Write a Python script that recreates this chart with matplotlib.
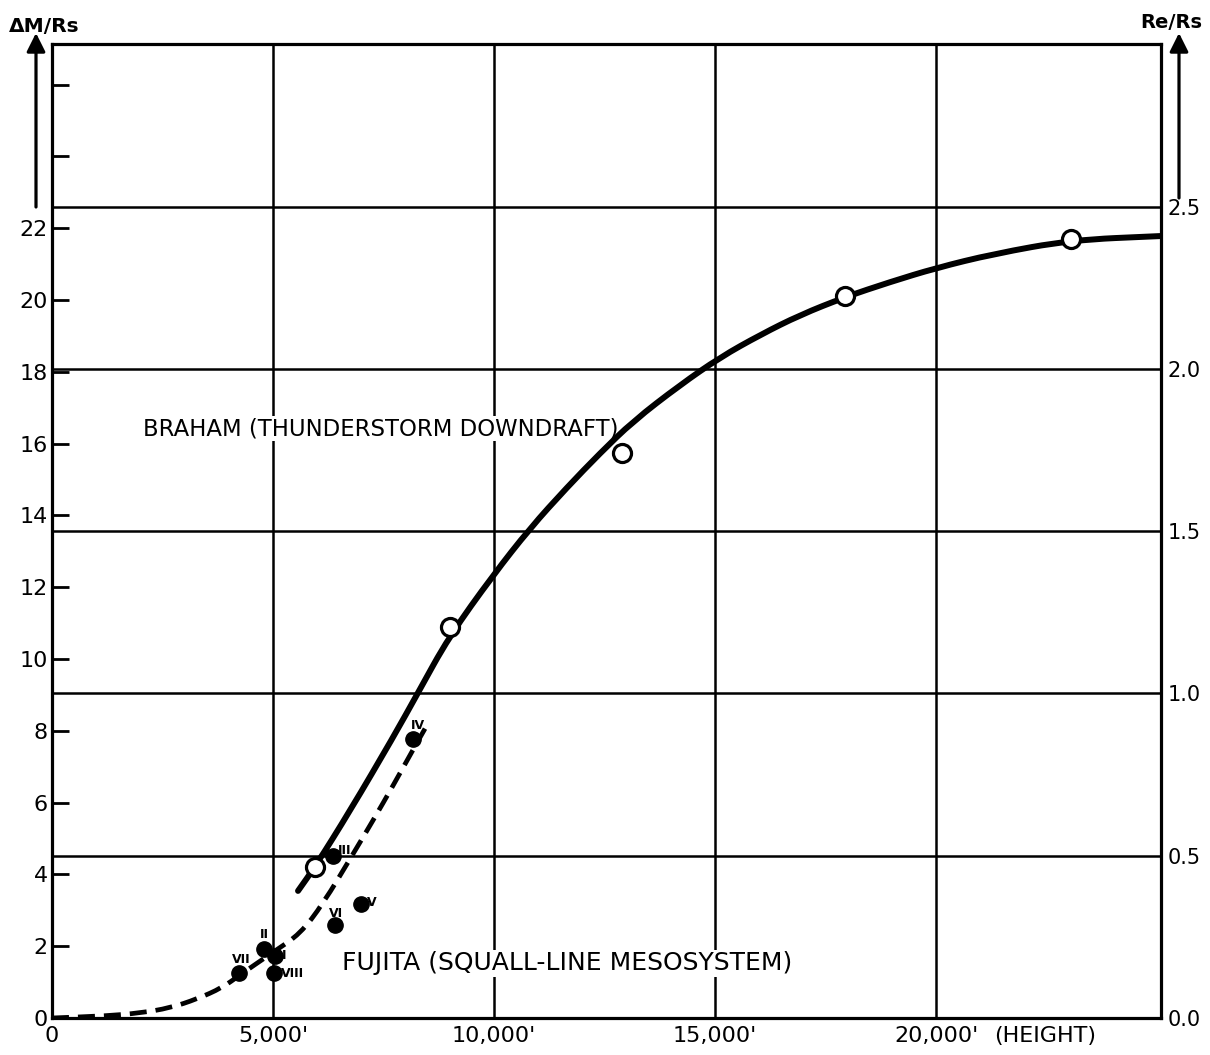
import numpy as np
import matplotlib
matplotlib.use("Agg")
import matplotlib.pyplot as plt
from matplotlib.path import Path
from matplotlib.patches import PathPatch

# Braham (thunderstorm downdraft) - open circles and solid curve
braham_x = [5950, 9000, 12900, 17950, 23050]
braham_y = [4.2, 10.9, 15.75, 20.1, 21.7]
braham_curve_x = [5566, 5950, 6742, 7715, 8281, 8982, 9977, 10814, 11652, 12398, 13145,
                  14208, 15113, 16041, 16923, 17941, 18959, 20000, 21290, 23054, 25068]
braham_curve_y = [3.54, 4.21, 5.77, 7.81, 9.06, 10.62, 12.33, 13.64, 14.78, 15.73, 16.62,
                  17.63, 18.4, 19.04, 19.58, 20.08, 20.5, 20.89, 21.28, 21.67, 21.78]

# Fujita (squall-line mesosystem) - filled dots and dashed curve
fujita_labels = ['I', 'II', 'III', 'IV', 'V', 'VI', 'VII', 'VIII']
fujita_x = [5045, 4796, 6357, 8167, 6991, 6403, 4231, 5023]
fujita_y = [1.73, 1.92, 4.52, 7.78, 3.18, 2.59, 1.26, 1.26]
fujita_curve_x = [0, 1244, 1991, 2670, 3281, 3846, 4253, 5045, 5611, 6131,
                  6787, 7262, 7715, 8167, 8439]
fujita_curve_y = [0, 0.06, 0.14, 0.28, 0.53, 0.84, 1.2, 1.87, 2.34, 3.18,
                  4.52, 5.5, 6.47, 7.47, 8.06]

# axes ticks
x_ticks = [0, 5000, 10000, 15000, 20000]
x_ticklabels = ["0", "5,000'", "10,000'", "15,000'", "20,000'"]
dm_ticks = list(range(0, 28, 2))
dm_ticklabels = [str(t) if t <= 22 else '' for t in dm_ticks]
re_ticks = [0.0, 0.5, 1.0, 1.5, 2.0, 2.5]
re_ticklabels = ['0.0', '0.5', '1.0', '1.5', '2.0', '2.5']
ratio = 9.04   # dM/Rs units per Re/Rs unit

# label offsets in pixels (dx, dy, ha)
label_pos = {
    'I': (7, 0, 'left'), 'II': (0, 15, 'center'), 'III': (5, 5, 'left'),
    'IV': (5, 13, 'center'), 'V': (6, 1, 'left'), 'VI': (1, 12, 'center'),
    'VII': (2, 13, 'center'), 'VIII': (7, -1, 'left'),
}


def smooth_curve(xs, ys):
    # quadratic b-spline through the traced points (drawn as bezier path)
    pts = np.column_stack([xs, ys]).astype(float)
    mids = (pts[:-1] + pts[1:]) / 2
    verts = [pts[0], mids[0]]
    codes = [Path.MOVETO, Path.LINETO]
    for i in range(1, len(pts) - 1):
        verts += [pts[i], mids[i]]
        codes += [Path.CURVE3, Path.CURVE3]
    verts.append(pts[-1])
    codes.append(Path.LINETO)
    return Path(verts, codes)


plt.rcParams['font.family'] = ['DejaVu Sans']

fig = plt.figure(figsize=(12.1, 10.55), dpi=100)
ax = fig.add_axes([52/1210, 37/1055, 1109/1210, 974/1055])
ax.set_xlim(0, 25090)
ax.set_ylim(0, 27.13)

for sp in ax.spines.values():
    sp.set_linewidth(2.3)

# grid
ax.set_xticks(x_ticks)
ax.set_xticklabels(x_ticklabels, fontsize=16)
ax.tick_params(axis='x', length=0, pad=6)
ax.set_yticks(dm_ticks)
ax.set_yticklabels(dm_ticklabels, fontsize=16)
ax.tick_params(axis='y', which='major', direction='in', length=12, width=2, pad=3)
ax.set_yticks([r * ratio for r in re_ticks[1:]], minor=True)
ax.tick_params(axis='y', which='minor', length=0)
ax.grid(axis='x', which='major', color='k', lw=1.8)
ax.grid(axis='y', which='minor', color='k', lw=1.8)
ax.grid(axis='y', which='major', visible=False)
ax.set_axisbelow(True)

sec = ax.secondary_yaxis('right', functions=(lambda y: y / ratio, lambda r: r * ratio))
sec.set_yticks(re_ticks)
sec.set_yticklabels(re_ticklabels, fontsize=15)
sec.tick_params(length=0, pad=5)
sec.spines['right'].set_visible(False)

# curves
ax.add_patch(PathPatch(smooth_curve(braham_curve_x, braham_curve_y), fill=False,
                       lw=4.3, edgecolor='k', capstyle='round', joinstyle='round', zorder=4))
ax.add_patch(PathPatch(smooth_curve(fujita_curve_x, fujita_curve_y), fill=False,
                       lw=3.4, edgecolor='k', linestyle=(0, (3.6, 1.9)), zorder=4))
ax.plot(braham_x, braham_y, 'o', ms=13, mfc='white', mec='k', mew=2.3, zorder=5)
ax.plot(fujita_x, fujita_y, 'o', ms=11, color='k', zorder=5)

for lab, x, y in zip(fujita_labels, fujita_x, fujita_y):
    dx, dy, ha = label_pos[lab]
    ax.annotate(lab, (x, y), xytext=(dx, dy), textcoords='offset pixels',
                ha=ha, va='center', fontsize=9, fontweight='bold', zorder=6)

ax.text(2059, 16.42, "BRAHAM (THUNDERSTORM DOWNDRAFT)", fontsize=16.4, va='center',
        ha='left', zorder=3, bbox=dict(facecolor='white', edgecolor='none', pad=1))
ax.text(6561, 1.53, "FUJITA (SQUALL-LINE MESOSYSTEM)", fontsize=18, va='center',
        ha='left', zorder=3, bbox=dict(facecolor='white', edgecolor='none', pad=1))
ax.annotate("(HEIGHT)", (22466, 0), xycoords=('data', 'axes fraction'),
            xytext=(0, -8), textcoords='offset pixels', fontsize=16, va='top', ha='center')

# axis titles with arrows
fig.text(44/1210, 1 - 26/1055, "ΔM/Rs", fontsize=14.5, fontweight='bold', ha='center', va='center')
fig.text(1171/1210, 1 - 22/1055, "Re/Rs", fontsize=14, fontweight='bold', ha='center', va='center')
arrow = dict(arrowstyle='-|>', lw=2.3, color='k', mutation_scale=28, shrinkA=0, shrinkB=0)
ax.annotate('', xy=(36, 1055 - 33), xytext=(36, 1055 - 207), xycoords='figure pixels',
            textcoords='figure pixels', arrowprops=arrow)
ax.annotate('', xy=(1179, 1055 - 33), xytext=(1179, 1055 - 198), xycoords='figure pixels',
            textcoords='figure pixels', arrowprops=arrow)

fig.savefig("out.png", dpi=100)
